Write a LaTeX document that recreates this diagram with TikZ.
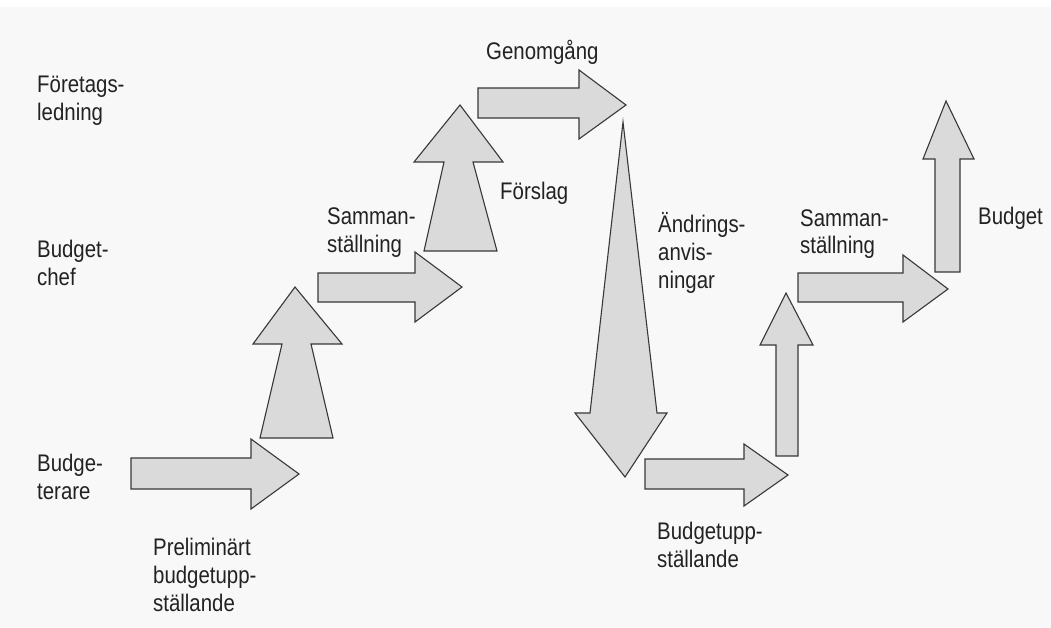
\documentclass[tikz,border=0pt]{standalone}
\usepackage{fontspec}
\setmainfont[FakeStretch=0.85]{Liberation Sans}
\definecolor{paper}{HTML}{F8F8F8}
\definecolor{arrowfill}{HTML}{DADADA}
\definecolor{ink}{HTML}{222222}
\tikzset{
  flowarrow/.style={fill=arrowfill, draw=ink!90, line width=1.1pt, line join=miter},
  % anchored at the baseline of the last line
  lbl/.style={anchor=base west, inner sep=0pt, align=left, text=ink,
    font=\fontsize{24}{28}\selectfont}
}
\begin{document}
\begin{tikzpicture}[x=1pt,y=-1pt]
  % page
  \fill[paper] (0,0) rectangle (1051,628);
  \fill[white] (0,0) rectangle (1051,7);
  \useasboundingbox (0,0) rectangle (1051,628);

  % block arrows of the budget process
  \filldraw[flowarrow] (131,458) -- (251,458) -- (251,439) -- (299,474) -- (251,509) -- (251,489) -- (131,489) -- cycle;
  \filldraw[flowarrow] (260,438) -- (282,344) -- (253,344) -- (295,287) -- (342,344) -- (311,344) -- (333,438) -- cycle;
  \filldraw[flowarrow] (318,273) -- (415,273) -- (415,252) -- (462,287) -- (415,322) -- (415,302) -- (318,302) -- cycle;
  \filldraw[flowarrow] (424,251) -- (444,162) -- (414,162) -- (460,105) -- (503,162) -- (473,162) -- (497,251) -- cycle;
  \filldraw[flowarrow] (478,88) -- (579,88) -- (579,70) -- (626,105) -- (579,139) -- (579,118) -- (478,118) -- cycle;
  \filldraw[flowarrow] (623,122) -- (657,413) -- (667,413) -- (625,477) -- (575,413) -- (590,413) -- cycle;
  \filldraw[flowarrow] (645,459) -- (744,459) -- (744,444) -- (788,475) -- (744,506) -- (744,489) -- (645,489) -- cycle;
  \filldraw[flowarrow] (776,456) -- (776,345) -- (760,345) -- (786,293) -- (813,345) -- (798,345) -- (798,456) -- cycle;
  \filldraw[flowarrow] (798,273) -- (903,273) -- (903,255) -- (948,289) -- (903,322) -- (903,302) -- (798,302) -- cycle;
  \filldraw[flowarrow] (935,272) -- (935,159) -- (923,159) -- (946,101) -- (974,159) -- (960,159) -- (960,272) -- cycle;

  % levels
  \node[lbl] (ledning) at (37,121) {Företags-\\ledning};
  \node[lbl] (chef) at (37,285) {Budget-\\chef};
  \node[lbl] (terare) at (37,499) {Budge-\\terare};

  % step labels
  \node[lbl] (prelim) at (153,611) {Preliminärt\\budgetupp-\\ställande};
  \node[lbl] (samman1) at (327,252) {Samman-\\ställning};
  \node[lbl] (forslag) at (500,200) {Förslag};
  \node[lbl] (genomgang) at (486,60) {Genomgång};
  \node[lbl] (andring) at (658,288) {Ändrings-\\anvis-\\ningar};
  \node[lbl] (uppst) at (657,567) {Budgetupp-\\ställande};
  \node[lbl] (samman2) at (800,254) {Samman-\\ställning};
  \node[lbl] (budget) at (978,225) {Budget};
\end{tikzpicture}
\end{document}
